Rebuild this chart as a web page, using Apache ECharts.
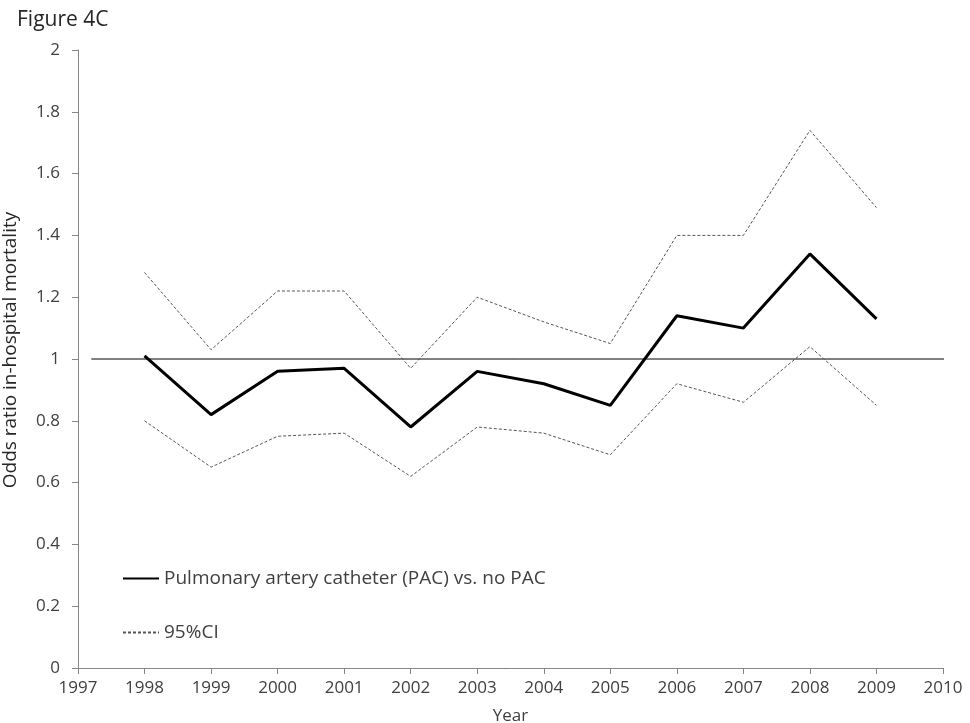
<!DOCTYPE html>
<html>
<head>
<meta charset="utf-8">
<script src="https://cdn.jsdelivr.net/npm/echarts@6/dist/echarts.min.js"></script>
<style>
  html, body { margin: 0; padding: 0; background: #fff; }
  #chart { width: 970px; height: 723px; }
</style>
</head>
<body>
<div id="chart"></div>
<script>
var years = [1998, 1999, 2000, 2001, 2002, 2003, 2004, 2005, 2006, 2007, 2008, 2009];
var oddsRatio = [1.01, 0.82, 0.96, 0.97, 0.78, 0.96, 0.92, 0.85, 1.14, 1.10, 1.34, 1.13];
var ciUpper = [1.28, 1.03, 1.22, 1.22, 0.97, 1.20, 1.12, 1.05, 1.40, 1.40, 1.74, 1.49];
var ciLower = [0.80, 0.65, 0.75, 0.76, 0.62, 0.78, 0.76, 0.69, 0.92, 0.86, 1.04, 0.85];
var refYears = [1997.2, 2010.15];
var refValue = [1, 1];

function pairs(xs, ys) {
    return xs.map(function (x, i) { return [x, ys[i]]; });
}

var font = '"Open Sans", "Liberation Sans", sans-serif';
var axisColor = '#868686';
var textColor = '#404040';

var chart = echarts.init(document.getElementById('chart'));
var option = {
    animation: false,
    backgroundColor: '#fff',
    textStyle: { fontFamily: font },
    title: {
        text: 'Figure 4C',
        left: 12,
        top: 5,
        textStyle: { fontSize: 21, fontWeight: 'normal', color: '#262626', fontFamily: font }
    },
    grid: { left: 78, right: 27, top: 50, bottom: 55, outerBoundsMode: 'none' },
    legend: {
        orient: 'vertical',
        left: 117,
        top: 564,
        itemWidth: 36,
        itemHeight: 14,
        itemGap: 35,
        itemStyle: { opacity: 0 },
        data: ['Pulmonary artery catheter (PAC) vs. no PAC', '95%CI'],
        textStyle: { fontSize: 19, color: textColor, fontFamily: font }
    },
    xAxis: {
        type: 'value',
        min: 1997,
        max: 2010,
        interval: 1,
        name: 'Year',
        nameLocation: 'middle',
        nameGap: 40,
        nameTextStyle: { fontSize: 17, color: textColor },
        axisLine: { lineStyle: { color: axisColor } },
        axisTick: { lineStyle: { color: axisColor }, length: 6 },
        axisLabel: { fontSize: 17, color: textColor, margin: 12, formatter: function (v) { return String(v); } },
        splitLine: { show: false }
    },
    yAxis: {
        type: 'value',
        min: 0,
        max: 2,
        interval: 0.2,
        name: 'Odds ratio in-hospital mortality',
        nameLocation: 'middle',
        nameGap: 58,
        nameTextStyle: { fontSize: 19, color: '#262626', padding: [0, 0, 0, 18] },
        axisLine: { show: true, lineStyle: { color: axisColor } },
        axisTick: { show: true, lineStyle: { color: axisColor }, length: 6 },
        axisLabel: { fontSize: 17, color: textColor, margin: 18, formatter: function (v) { return String(Math.round(v * 10) / 10); } },
        splitLine: { show: false }
    },
    series: [
        {
            name: 'reference',
            type: 'line',
            data: pairs(refYears, refValue),
            symbol: 'none',
            clip: false,
            lineStyle: { color: '#000', width: 1 },
            z: 1
        },
        {
            name: 'Pulmonary artery catheter (PAC) vs. no PAC',
            type: 'line',
            data: pairs(years, oddsRatio),
            symbol: 'none',
            lineStyle: { color: '#000', width: 3 },
            itemStyle: { color: '#000' },
            z: 3
        },
        {
            name: '95%CI',
            type: 'line',
            data: pairs(years, ciUpper),
            symbol: 'none',
            lineStyle: { color: '#555', width: 1, type: [3, 2] },
            itemStyle: { color: '#555' },
            z: 2
        },
        {
            name: '95%CI',
            type: 'line',
            data: pairs(years, ciLower),
            symbol: 'none',
            lineStyle: { color: '#555', width: 1, type: [3, 2] },
            itemStyle: { color: '#555' },
            z: 2
        }
    ]
};
chart.setOption(option);
</script>
</body>
</html>
